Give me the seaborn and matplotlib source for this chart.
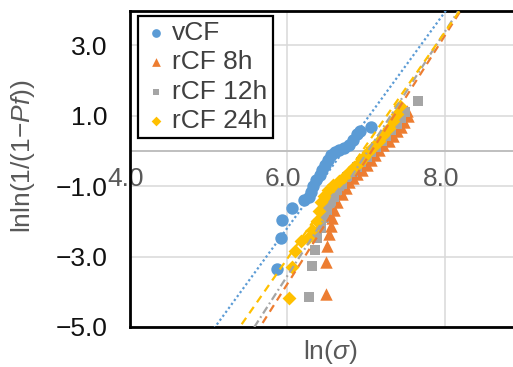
import numpy as np
import pandas as pd
import matplotlib
matplotlib.use("Agg")
import matplotlib.pyplot as plt
import seaborn as sns

# Weibull plot data: ln(sigma) vs lnln(1/(1-Pf))
series_names = ["vCF", "rCF 8h", "rCF 12h", "rCF 24h"]

vcf_x = [5.87, 5.92, 5.93, 6.06, 6.21, 6.28, 6.30, 6.33, 6.37, 6.41, 6.44,
         6.48, 6.52, 6.56, 6.61, 6.66, 6.72, 6.79, 6.83, 6.88, 6.93, 7.07]
vcf_y = [-3.36, -2.48, -1.97, -1.63, -1.40, -1.31, -1.17, -1.00, -0.83, -0.69, -0.55,
         -0.40, -0.26, -0.12, -0.03, 0.02, 0.08, 0.17, 0.31, 0.48, 0.56, 0.68]

rcf8_x = [6.49, 6.49, 6.51, 6.53, 6.55, 6.57, 6.60, 6.63, 6.69, 6.74, 6.79, 6.84, 6.89,
          6.95, 7.01, 7.06, 7.11, 7.17, 7.22, 7.29, 7.35, 7.40, 7.45, 7.49, 7.54, 7.52]
rcf8_y = [-4.07, -3.16, -2.71, -2.36, -2.14, -1.91, -1.68, -1.46, -1.23, -1.06, -0.89, -0.77, -0.66,
          -0.55, -0.40, -0.26, -0.12, 0.02, 0.17, 0.28, 0.42, 0.56, 0.68, 0.82, 0.99, 1.13]

rcf12_x = [6.28, 6.32, 6.35, 6.38, 6.43, 6.47, 6.51, 6.56, 6.60, 6.63, 6.70, 6.76, 6.83,
           6.89, 6.94, 7.01, 7.07, 7.13, 7.20, 7.26, 7.32, 7.39, 7.45, 7.50, 7.66]
rcf12_y = [-4.15, -3.27, -2.82, -2.48, -2.19, -1.91, -1.68, -1.48, -1.31, -1.11, -0.94, -0.74, -0.60,
           -0.46, -0.32, -0.18, -0.03, 0.11, 0.28, 0.42, 0.59, 0.76, 0.93, 1.10, 1.42]

rcf24_x = [6.02, 6.06, 6.10, 6.18, 6.26, 6.32, 6.38, 6.40, 6.43, 6.47, 6.52, 6.58, 6.66,
           6.72, 6.79, 6.85, 6.92, 6.97, 7.03, 7.09, 7.16, 7.22, 7.29, 7.34, 7.39, 7.43]
rcf24_y = [-4.18, -3.30, -2.85, -2.56, -2.48, -2.25, -1.99, -1.71, -1.46, -1.28, -1.11, -0.97, -0.86,
           -0.74, -0.60, -0.46, -0.32, -0.18, -0.03, 0.11, 0.28, 0.45, 0.65, 0.85, 1.05, 1.27]

# linear trend lines (y = slope * x + intercept)
trend_slope = [3.06, 3.52, 3.46, 3.21]
trend_intercept = [-20.55, -24.90, -24.31, -22.32]

x_ticks = [4.0, 6.0, 8.0]
x_tick_labels = ["4.0", "6.0", "8.0"]
y_ticks = [-5.0, -3.0, -1.0, 1.0, 3.0]
y_tick_labels = ["\u22125.0", "\u22123.0", "\u22121.0", "1.0", "3.0"]

colors = {"vCF": "#5B9BD5", "rCF 8h": "#ED7D31", "rCF 12h": "#A5A5A5", "rCF 24h": "#FFC000"}
markers = {"vCF": "o", "rCF 8h": "^", "rCF 12h": "s", "rCF 24h": "D"}
msize = {"vCF": 80, "rCF 8h": 80, "rCF 12h": 48, "rCF 24h": 50}
lstyle = {"vCF": (0, (1, 1.2)), "rCF 8h": (0, (3.5, 2.5)), "rCF 12h": (0, (3.5, 1.5, 0.8, 1.5)),
          "rCF 24h": (0, (3.5, 2.5))}

xs_all = [vcf_x, rcf8_x, rcf12_x, rcf24_x]
ys_all = [vcf_y, rcf8_y, rcf12_y, rcf24_y]
df = pd.concat([pd.DataFrame({"ln_sigma": x, "lnln": y, "series": n})
                for x, y, n in zip(xs_all, ys_all, series_names)], ignore_index=True)

sns.set_style("white")
plt.rcParams["font.family"] = ["Liberation Sans", "DejaVu Sans"]
plt.rcParams["mathtext.fontset"] = "custom"
plt.rcParams["mathtext.rm"] = "Liberation Sans"
plt.rcParams["mathtext.it"] = "Liberation Sans:italic"

fs = 19
fig = plt.figure(figsize=(5.13, 3.67), dpi=100)
ax = fig.add_axes([0.2534, 0.109, 0.7666, 0.861])

xlim = (4.0, 9.0)
ylim = (-5.0, 3.97)

for name in series_names:
    sub = df[df.series == name]
    sns.scatterplot(data=sub, x="ln_sigma", y="lnln", color=colors[name], marker=markers[name],
                    s=msize[name], linewidth=0, label=name, ax=ax, zorder=3)

line_x = np.array(xlim)
for name, a, b in zip(series_names, trend_slope, trend_intercept):
    sns.lineplot(x=line_x, y=a * line_x + b, color=colors[name], linestyle=lstyle[name],
                 lw=1.6, ax=ax, legend=False, zorder=4)

ax.set_xlim(*xlim)
ax.set_ylim(*ylim)
ax.set_xticks(x_ticks)
ax.set_yticks(y_ticks)
ax.set_yticklabels(y_tick_labels)
ax.grid(True, color="#D9D9D9", lw=1.1, zorder=0)
ax.set_axisbelow(True)
ax.axhline(0, color="#BFBFBF", lw=1.4, zorder=1)
ax.tick_params(axis="x", length=0, labelbottom=False)
ax.tick_params(axis="y", length=0, pad=16, labelsize=fs, labelcolor="#111111")

for t, lab in zip(x_ticks, x_tick_labels):
    ax.text(t - 0.05, -0.8, lab, ha="center", va="center", fontsize=fs, color="#595959", zorder=2)

for s in ["left", "top", "bottom"]:
    ax.spines[s].set_color("black")
    ax.spines[s].set_linewidth(2)
ax.spines["right"].set_visible(False)

ax.set_xlabel(r"ln($\sigma$)", fontsize=fs, color="#595959")
ax.set_ylabel(r"lnln(1/(1$-$$\mathit{Pf}$))", fontsize=fs, color="#595959")
ax.xaxis.set_label_coords(0.51, -0.035)
ax.yaxis.set_label_coords(-0.236, 0.54)

leg = ax.legend(loc="upper left", bbox_to_anchor=(0.02, 0.985), borderaxespad=0, frameon=True,
                fancybox=False, edgecolor="black", framealpha=1, fontsize=fs, handletextpad=0.1,
                labelspacing=0.2, borderpad=0.2, handlelength=1.0, markerscale=0.7)
leg.get_frame().set_linewidth(1.6)
for txt in leg.get_texts():
    txt.set_color("#404040")

fig.savefig("out.png", dpi=100)
